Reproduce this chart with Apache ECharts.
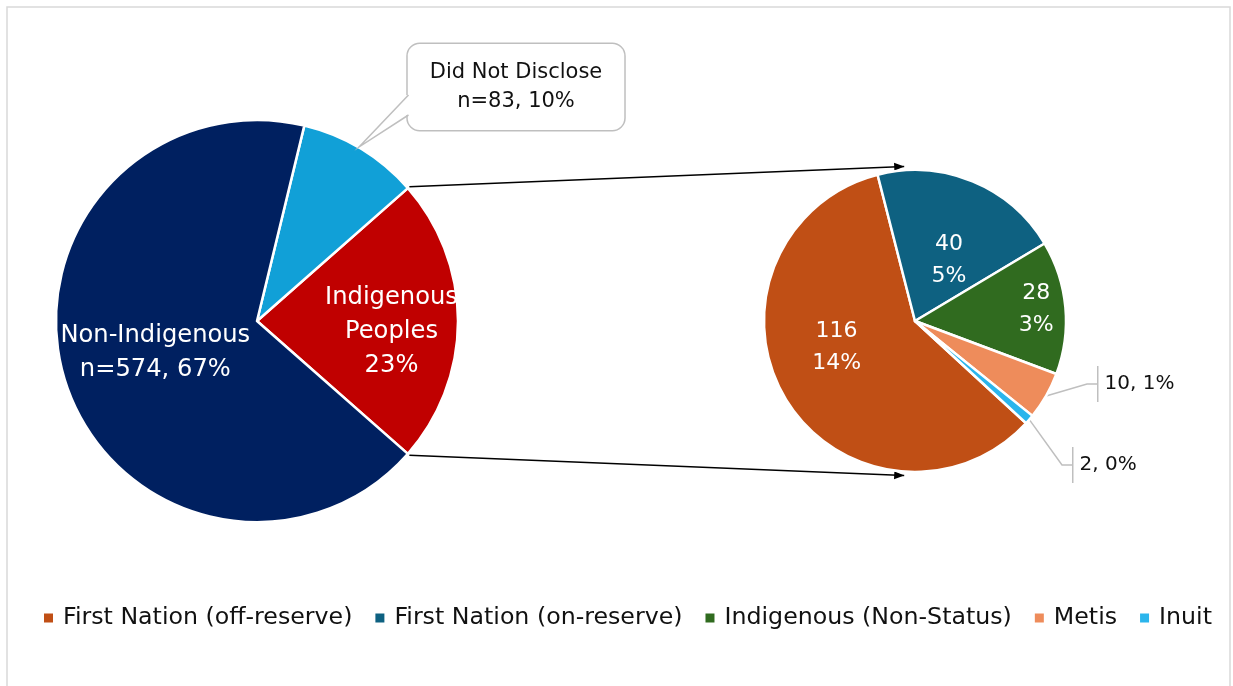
<!DOCTYPE html>
<html><head><meta charset="utf-8">
<script src="https://cdn.jsdelivr.net/npm/echarts@6/dist/echarts.min.js"></script>
<style>html,body{margin:0;padding:0;background:#fff}#c{width:1233px;height:686px}</style>
</head><body><div id="c"></div>
<script>
// ---- data ----
const mainCategories = ['Indigenous Peoples', 'Did Not Disclose', 'Non-Indigenous'];
const mainValues = [196, 83, 574];
const subCategories = ['First Nation (off-reserve)', 'First Nation (on-reserve)', 'Indigenous (Non-Status)', 'Metis', 'Inuit'];
const subValues = [116, 40, 28, 10, 2];

// ---- styles / layout ----
const FONT = 'DejaVu Sans';
const mainColors = ['#C00000', '#11A0D7', '#002060'];
const subColors = ['#C04F15', '#0E6181', '#306B1F', '#EE8C5B', '#2BB5EC'];
const C1 = [257, 321], R1 = 201;
const C2 = [915, 321], R2 = 151;
const total = mainValues.reduce((a, b) => a + b, 0);
const pct = v => Math.round(v / total * 100);
const mainStart = 360 - (mainValues[0] / total * 360) / 2;
const subStart = 317.4;

// label adjustments (style offsets)
const mainLabelShift = { 0: [31, 11], 2: [-3, 1] };
const mainCallout = { 1: [259, -234] };
const calloutBox = { w: 216, h: 86 };
const subLabelShift = { 0: [-11, -14], 1: [4, 12], 2: [43, -5] };
const subCallout = { 3: [182, 63], 4: [157, 144] };

const mainData = mainCategories.map((n, i) => {
  const v = mainValues[i];
  const item = { name: n, value: v, itemStyle: { color: mainColors[i] } };
  if (mainCallout[i]) {
    item.label = {
      position: 'outside', color: '#111', fontSize: 21, lineHeight: 29, fontFamily: FONT,
      backgroundColor: '#fff', borderColor: '#bfbfbf', borderWidth: 1.5, borderRadius: 12,
      padding: [14, 22],
      formatter: `${n}\nn=${v}, ${pct(v)}%`
    };
    item.labelLine = { show: false };
  } else if (i === 0) {
    item.label = { formatter: `${n.replace(' ', '\n')}\n${pct(v)}%` };
  } else {
    item.label = { formatter: `${n}\nn=${v}, ${pct(v)}%` };
  }
  return item;
});

const subData = subCategories.map((n, i) => {
  const v = subValues[i];
  const item = { name: n, value: v, itemStyle: { color: subColors[i] } };
  if (subCallout[i]) {
    item.label = {
      position: 'outside', color: '#111', fontFamily: FONT,
      formatter: `{bar|}{t|${v}, ${pct(v)}%}`,
      rich: {
        bar: { width: 1.5, height: 36, backgroundColor: '#bfbfbf' },
        t: { fontSize: 20, color: '#111', fontFamily: FONT, padding: [0, 0, 0, 6] }
      }
    };
    item.labelLine = { show: true, length: 10, length2: 10, lineStyle: { color: '#bfbfbf', width: 1.5 } };
  } else {
    item.label = { formatter: `${v}\n${pct(v)}%` };
  }
  return item;
});

function polar(c, r, deg) {
  const a = deg * Math.PI / 180;
  return [c[0] + r * Math.cos(a), c[1] - r * Math.sin(a)];
}
function arrowHead(p0, p1, len, hw) {
  const dx = p1[0] - p0[0], dy = p1[1] - p0[1];
  const L = Math.hypot(dx, dy), ux = dx / L, uy = dy / L;
  const bx = p1[0] - ux * len, by = p1[1] - uy * len;
  return [[p1[0], p1[1]], [bx - uy * hw, by + ux * hw], [bx + uy * hw, by - ux * hw]];
}
const edgeAngle = mainValues[0] / total * 360 / 2;
const topStart = polar(C1, R1 + 2, edgeAngle), botStart = polar(C1, R1 + 2, -edgeAngle);
const topEnd = polar(C2, R2 + 4, 94), botEnd = polar(C2, R2 + 4, -94);

// callout pointer for "Did Not Disclose"
const dndAngle = edgeAngle + (mainValues[1] / total * 360) * 0.52;
const tip = polar(C1, R1 + 1, dndAngle);
const boxLeft = C1[0] + mainCallout[1][0] - calloutBox.w / 2;
const boxCy = C1[1] + mainCallout[1][1];
const wedgeA = [boxLeft + 0.5, boxCy + 8], wedgeB = [boxLeft + 0.5, boxCy + 28];

const chart = echarts.init(document.getElementById('c'), null, { renderer: 'canvas' });
chart.setOption({
  animation: false,
  backgroundColor: '#fff',
  textStyle: { fontFamily: FONT },
  legend: {
    data: subCategories,
    bottom: 51, left: 37, width: 1185,
    icon: 'rect', itemWidth: 11, itemHeight: 11, itemGap: 21,
    selectedMode: false,
    textStyle: { fontSize: 23.7, color: '#111', fontFamily: FONT, padding: [0, 0, 0, 4] }
  },
  graphic: [
    { type: 'rect', silent: true, shape: { x: 7, y: 7, width: 1223, height: 700 },
      style: { fill: 'none', stroke: '#d9d9d9', lineWidth: 1.5 } },
    { type: 'line', silent: true, shape: { x1: topStart[0], y1: topStart[1], x2: topEnd[0], y2: topEnd[1] },
      style: { stroke: '#000', lineWidth: 1.5 } },
    { type: 'line', silent: true, shape: { x1: botStart[0], y1: botStart[1], x2: botEnd[0], y2: botEnd[1] },
      style: { stroke: '#000', lineWidth: 1.5 } },
    { type: 'polygon', silent: true, shape: { points: arrowHead(topStart, topEnd, 10, 4) }, style: { fill: '#000' } },
    { type: 'polygon', silent: true, shape: { points: arrowHead(botStart, botEnd, 10, 4) }, style: { fill: '#000' } },
    { type: 'polygon', silent: true, z: 100,
      shape: { points: [[wedgeA[0] + 3, wedgeA[1]], [wedgeA[0] - 2, wedgeA[1]], tip, [wedgeB[0] - 2, wedgeB[1]], [wedgeB[0] + 3, wedgeB[1]]] },
      style: { fill: '#fff' } },
    { type: 'polyline', silent: true, z: 101,
      shape: { points: [wedgeA, tip, wedgeB] },
      style: { stroke: '#bfbfbf', lineWidth: 1.5, fill: null } }
  ],
  series: [
    {
      type: 'pie', center: C1, radius: [0, R1], clockwise: false, startAngle: mainStart,
      avoidLabelOverlap: false, silent: true,
      itemStyle: { borderColor: '#fff', borderWidth: 2.5 },
      label: { show: true, position: 'inside', color: '#fff', fontSize: 24.2, lineHeight: 34, fontFamily: FONT, align: 'center' },
      labelLine: { show: false },
      labelLayout: p => {
        if (mainCallout[p.dataIndex]) {
          const o = mainCallout[p.dataIndex];
          return { x: C1[0] + o[0], y: C1[1] + o[1], align: 'center', verticalAlign: 'middle' };
        }
        const s = mainLabelShift[p.dataIndex];
        return s ? { dx: s[0], dy: s[1] } : {};
      },
      data: mainData
    },
    {
      type: 'pie', center: C2, radius: [0, R2], clockwise: true, startAngle: subStart,
      avoidLabelOverlap: false, silent: true,
      itemStyle: { borderColor: '#fff', borderWidth: 2.5 },
      label: { show: true, position: 'inside', color: '#fff', fontSize: 22, lineHeight: 32, fontFamily: FONT, align: 'center' },
      labelLine: { show: false },
      labelLayout: p => {
        if (subCallout[p.dataIndex]) {
          const o = subCallout[p.dataIndex];
          return { x: C2[0] + o[0], y: C2[1] + o[1], align: 'left', verticalAlign: 'middle' };
        }
        const s = subLabelShift[p.dataIndex];
        return s ? { dx: s[0], dy: s[1] } : {};
      },
      data: subData
    }
  ]
});
</script>
</body></html>
